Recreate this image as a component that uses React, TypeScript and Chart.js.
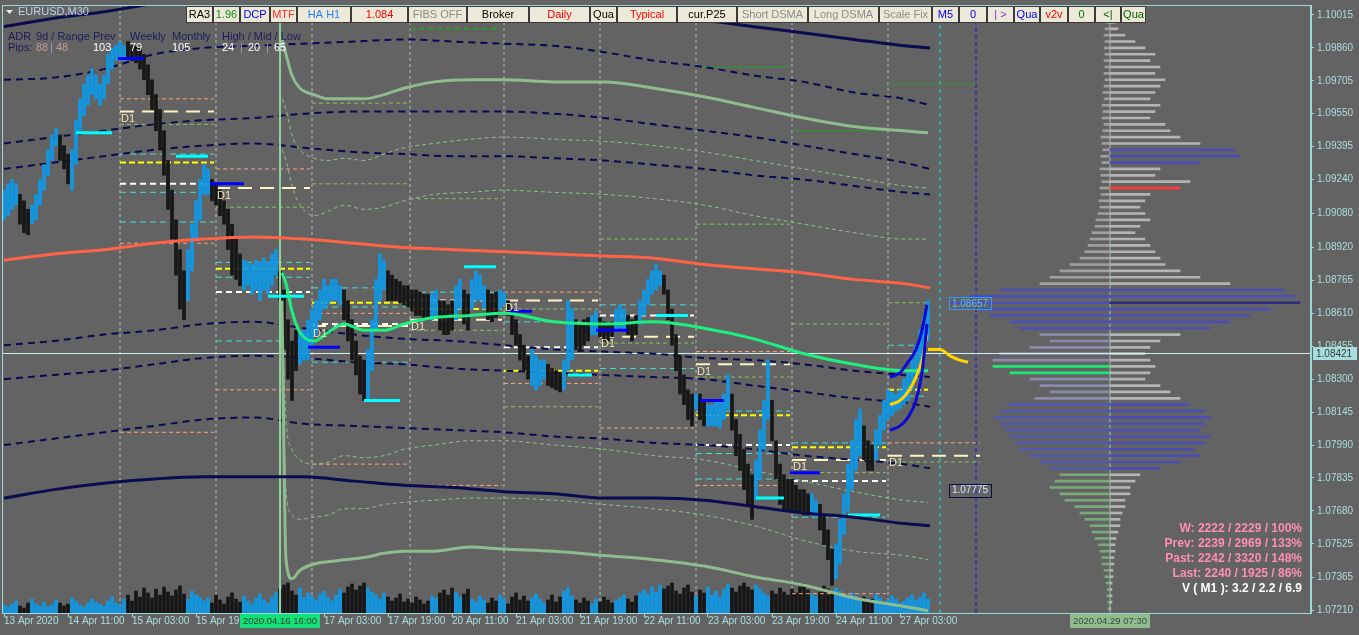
import React, { useEffect, useRef } from "react";
import { Chart, registerables } from "chart.js";

Chart.register(...registerables);

// ---------------- axes ----------------
const Y_MIN = 1.07199;
const Y_MAX = 1.10062;
const Y_TICKS = [1.10015, 1.0986, 1.09705, 1.0955, 1.09395, 1.0924, 1.0908, 1.0892, 1.08765, 1.0861, 1.08455, 1.083, 1.08145, 1.0799, 1.07835, 1.0768, 1.07525, 1.07365, 1.0721];
const LAST_PRICE = 1.08421;

// x = M30 bar number counted from 13 Apr 19:00
const X_MIN = -1;
const X_MAX = 653.5;
const TIME_TICKS = [0, 32, 64, 96, 128, 160, 192, 224, 256, 288, 320, 352, 384, 416, 448];
const TIME_LABELS = ["13 Apr 2020", "14 Apr 11:00", "15 Apr 03:00", "15 Apr 19:00", "16 Apr 11:00", "17 Apr 03:00", "17 Apr 19:00", "20 Apr 11:00", "21 Apr 03:00", "21 Apr 19:00", "22 Apr 11:00", "23 Apr 03:00", "23 Apr 19:00", "24 Apr 11:00", "27 Apr 03:00"];
const BARS_PER_SAMPLE = 2;

// ---------------- price (one sample every 2 bars) ----------------
const PRICE_HIGH = [
  1.0919, 1.0922, 1.0924, 1.0922, 1.0917, 1.0914, 1.0910, 1.0912, 1.0917, 1.0924,
  1.0931, 1.0938, 1.0945, 1.0948, 1.0945, 1.0940, 1.0936, 1.0938, 1.0952, 1.0962,
  1.0969, 1.0973, 1.0976, 1.0973, 1.0969, 1.0973, 1.0983, 1.0986, 1.0987, 1.0989,
  1.0987, 1.0989, 1.0987, 1.0987, 1.0986, 1.0983, 1.0978, 1.0971, 1.0964, 1.0957,
  1.0947, 1.0933, 1.0919, 1.0905, 1.0891, 1.0881, 1.0891, 1.0903, 1.0914, 1.0924,
  1.0931, 1.0929, 1.0924, 1.0922, 1.0919, 1.0914, 1.0910, 1.0903, 1.0896, 1.0889,
  1.0886, 1.0885, 1.0884, 1.0886, 1.0885, 1.0887, 1.0885, 1.0889, 1.0891, 1.0881,
  1.0872, 1.0858, 1.0848, 1.0853, 1.0853, 1.0853, 1.0858, 1.0863, 1.0867, 1.0872,
  1.0877, 1.0874, 1.0877, 1.0877, 1.0874, 1.0872, 1.0867, 1.0858, 1.0848, 1.0841,
  1.0839, 1.0844, 1.0858, 1.0877, 1.0889, 1.0886, 1.0881, 1.0879, 1.0877, 1.0876,
  1.0874, 1.0874, 1.0872, 1.0872, 1.0871, 1.0870, 1.0870, 1.0870, 1.0872, 1.0867,
  1.0867, 1.0865, 1.0867, 1.0874, 1.0877, 1.0872, 1.0870, 1.0877, 1.0881, 1.0879,
  1.0874, 1.0872, 1.0870, 1.0871, 1.0872, 1.0871, 1.0867, 1.0863, 1.0858, 1.0851,
  1.0846, 1.0841, 1.0844, 1.0841, 1.0839, 1.0839, 1.0837, 1.0835, 1.0834, 1.0833,
  1.0839, 1.0867, 1.0863, 1.0858, 1.0856, 1.0858, 1.0859, 1.0860, 1.0862, 1.0859,
  1.0857, 1.0856, 1.0857, 1.0863, 1.0865, 1.0863, 1.0860, 1.0858, 1.0860, 1.0867,
  1.0872, 1.0877, 1.0881, 1.0884, 1.0881, 1.0879, 1.0872, 1.0863, 1.0851, 1.0841,
  1.0832, 1.0825, 1.0823, 1.0823, 1.0823, 1.0820, 1.0818, 1.0818, 1.0820, 1.0820,
  1.0823, 1.0832, 1.0823, 1.0811, 1.0804, 1.0797, 1.0790, 1.0785, 1.0792, 1.0806,
  1.0820, 1.0839, 1.0820, 1.0801, 1.0790, 1.0785, 1.0783, 1.0783, 1.0780, 1.0778,
  1.0778, 1.0776, 1.0776, 1.0773, 1.0771, 1.0766, 1.0759, 1.0750, 1.0752, 1.0764,
  1.0776, 1.0790, 1.0801, 1.0811, 1.0816, 1.0808, 1.0801, 1.0799, 1.0806, 1.0813,
  1.0820, 1.0825, 1.0824, 1.0823, 1.0825, 1.0830, 1.0834, 1.0839, 1.0846, 1.0853,
  1.0860, 1.0867,
];
const PRICE_LOW = [
  1.0905, 1.0907, 1.0910, 1.0912, 1.0903, 1.0899, 1.0898, 1.0903, 1.0905, 1.0912,
  1.0919, 1.0926, 1.0933, 1.0940, 1.0933, 1.0929, 1.0922, 1.0919, 1.0931, 1.0947,
  1.0954, 1.0959, 1.0964, 1.0962, 1.0959, 1.0962, 1.0969, 1.0976, 1.0980, 1.0981,
  1.0980, 1.0981, 1.0980, 1.0979, 1.0976, 1.0971, 1.0964, 1.0957, 1.0947, 1.0938,
  1.0926, 1.0910, 1.0896, 1.0879, 1.0863, 1.0858, 1.0867, 1.0881, 1.0896, 1.0905,
  1.0917, 1.0917, 1.0914, 1.0912, 1.0907, 1.0903, 1.0891, 1.0879, 1.0877, 1.0874,
  1.0872, 1.0874, 1.0870, 1.0872, 1.0867, 1.0872, 1.0870, 1.0874, 1.0879, 1.0867,
  1.0844, 1.0830, 1.0820, 1.0834, 1.0837, 1.0839, 1.0839, 1.0846, 1.0851, 1.0858,
  1.0863, 1.0865, 1.0867, 1.0867, 1.0865, 1.0858, 1.0848, 1.0839, 1.0832, 1.0823,
  1.0820, 1.0820, 1.0834, 1.0853, 1.0867, 1.0872, 1.0867, 1.0867, 1.0867, 1.0866,
  1.0865, 1.0864, 1.0862, 1.0860, 1.0860, 1.0859, 1.0858, 1.0858, 1.0860, 1.0853,
  1.0851, 1.0851, 1.0853, 1.0858, 1.0863, 1.0856, 1.0853, 1.0863, 1.0867, 1.0867,
  1.0863, 1.0858, 1.0857, 1.0859, 1.0863, 1.0865, 1.0860, 1.0851, 1.0846, 1.0839,
  1.0834, 1.0830, 1.0827, 1.0825, 1.0827, 1.0830, 1.0827, 1.0826, 1.0825, 1.0824,
  1.0825, 1.0834, 1.0839, 1.0844, 1.0843, 1.0846, 1.0848, 1.0851, 1.0851, 1.0850,
  1.0848, 1.0848, 1.0850, 1.0853, 1.0854, 1.0853, 1.0851, 1.0848, 1.0851, 1.0856,
  1.0860, 1.0865, 1.0870, 1.0872, 1.0874, 1.0870, 1.0858, 1.0846, 1.0834, 1.0823,
  1.0818, 1.0811, 1.0808, 1.0816, 1.0811, 1.0808, 1.0808, 1.0808, 1.0808, 1.0807,
  1.0811, 1.0816, 1.0806, 1.0794, 1.0787, 1.0778, 1.0771, 1.0764, 1.0773, 1.0783,
  1.0797, 1.0811, 1.0801, 1.0783, 1.0771, 1.0768, 1.0768, 1.0768, 1.0768, 1.0768,
  1.0766, 1.0766, 1.0766, 1.0765, 1.0759, 1.0752, 1.0745, 1.0733, 1.0736, 1.0743,
  1.0757, 1.0768, 1.0778, 1.0787, 1.0794, 1.0792, 1.0787, 1.0787, 1.0792, 1.0799,
  1.0806, 1.0811, 1.0813, 1.0815, 1.0816, 1.0818, 1.0820, 1.0825, 1.0830, 1.0837,
  1.0844, 1.0848,
];
// alternating runs of up (blue) / down (black) samples, starting with up
const TREND_RUNS = [4, 3, 7, 3, 14, 15, 6, 8, 9, 5, 11, 6, 5, 11, 2, 4, 2, 2, 4, 3, 2, 6, 4, 4, 3, 4, 2, 4, 3, 3, 6, 8, 1, 2, 6, 6, 4, 10, 2, 4, 7, 3, 14];
// tick volume (hundreds) per sample
const VOLUME = [
  8, 6, 9, 12, 7, 5, 10, 14, 9, 7, 11, 6, 8, 13, 10, 7, 9, 15, 12, 8, 6, 10, 14, 11, 9, 7, 12, 16, 10, 8,
  14, 18, 12, 22, 16, 25, 20, 15, 24, 18, 26, 21, 17, 23, 27, 19, 14, 22, 18, 16,
  12, 15, 10, 18, 13, 9, 16, 20, 14, 11, 17, 12, 9, 15, 19, 13, 10, 16, 21, 24,
  28, 30, 22, 18, 25, 15, 20, 17, 13, 19, 22, 16, 12, 18, 24, 20, 26, 29, 23, 27, 30, 25, 21, 18, 14, 20, 16, 12, 15, 19,
  11, 14, 10, 16, 13, 9, 12, 17, 15, 20, 23, 18, 25, 21, 16, 19, 24, 14, 11, 17, 13, 10, 15, 12, 18, 14, 9, 16, 20, 13,
  17, 12, 15, 19, 14, 10, 13, 18, 11, 16, 22, 25, 17, 13, 10, 15, 12, 9, 14, 11, 16, 13, 10, 12, 15, 18, 14, 11, 17, 20, 23, 19, 26, 21, 28,
  24, 27, 30, 22, 19, 25, 28, 21, 17, 23, 20, 26, 18, 22, 16, 24, 29, 25, 21, 27, 30, 26, 23, 28, 24, 20, 17, 22, 19, 25, 21, 18, 24, 20, 26, 29, 23, 19, 16, 21, 27, 24, 20, 25, 22,
  18, 15, 20, 17, 13, 16, 12, 14, 19, 15, 11, 13, 17, 14, 10, 12, 15, 18, 13, 16, 20, 14,
];

// ---------------- moving averages / envelopes (sampled every 25 bars) ----------------
const MA_X = [0, 25, 50, 75, 100, 125, 150, 175, 200, 225, 250, 275, 300, 325, 350, 375, 400, 425, 450, 463];
const MA_RED = [1.0886, 1.0889, 1.0891, 1.0894, 1.0896, 1.0897, 1.0896, 1.0894, 1.0892, 1.0891, 1.0890, 1.0889, 1.0888, 1.0887, 1.0884, 1.0882, 1.0880, 1.0877, 1.0875, 1.0873];
const BAND_TOP = [1.0996, 1.1000, 1.1003, 1.1007, 1.1011, 1.1013, 1.1015, 1.1016, 1.1015, 1.1013, 1.1011, 1.1009, 1.1005, 1.10015, 1.0999, 1.0996, 1.0993, 1.0990, 1.0987, 1.0986];
const BAND_BOTTOM = [1.0774, 1.0778, 1.0781, 1.0783, 1.0784, 1.0784, 1.0784, 1.0782, 1.0780, 1.0779, 1.0777, 1.0776, 1.0774, 1.0774, 1.0773, 1.0770, 1.0767, 1.0765, 1.0762, 1.0761];
const ENV_UP_1 = [1.0971, 1.0972, 1.0976, 1.0983, 1.0986, 1.0987, 1.0988, 1.0989, 1.0990, 1.0989, 1.0988, 1.0987, 1.0984, 1.0980, 1.0977, 1.0973, 1.0970, 1.0965, 1.0962, 1.0959];
const ENV_UP_2 = [1.0941, 1.0944, 1.0947, 1.0950, 1.0952, 1.0953, 1.0955, 1.0956, 1.0956, 1.0956, 1.0956, 1.0955, 1.0953, 1.0950, 1.0947, 1.0944, 1.0940, 1.0936, 1.0932, 1.0929];
const ENV_UP_3 = [1.0929, 1.0932, 1.0935, 1.0938, 1.0940, 1.0941, 1.0939, 1.0937, 1.0936, 1.0935, 1.0935, 1.0934, 1.0933, 1.0931, 1.0929, 1.0926, 1.0924, 1.0921, 1.0918, 1.0917];
const ENV_DN_1 = [1.0846, 1.0848, 1.0851, 1.0853, 1.0856, 1.0857, 1.0854, 1.0851, 1.0849, 1.0848, 1.0846, 1.0844, 1.0843, 1.0842, 1.0840, 1.0839, 1.0837, 1.0834, 1.0832, 1.0831];
const ENV_DN_2 = [1.0830, 1.0832, 1.0834, 1.0837, 1.0840, 1.0841, 1.0840, 1.0838, 1.0837, 1.0835, 1.0834, 1.0833, 1.0832, 1.0831, 1.0830, 1.0827, 1.0824, 1.0821, 1.0819, 1.0817];
const ENV_DN_3 = [1.0799, 1.0802, 1.0805, 1.0808, 1.0811, 1.0812, 1.0809, 1.0808, 1.0807, 1.0806, 1.0805, 1.0803, 1.0802, 1.0800, 1.0799, 1.0797, 1.0794, 1.0792, 1.0790, 1.0788];

// ---------------- anchored VWAP from 2020.04.16 16:00 ----------------
const ANCHOR_START = 138;
const ANCHOR_END = 553;
const VWAP_X = [139, 141, 144, 148, 155, 162, 170, 180, 190, 200, 215, 233, 250, 275, 300, 325, 350, 375, 400, 425, 450, 462];
const VWAP = [1.0880, 1.0875, 1.0862, 1.0852, 1.0848, 1.0852, 1.0856, 1.0853, 1.0853, 1.0856, 1.0859, 1.0860, 1.0861, 1.0857, 1.0856, 1.0857, 1.0854, 1.0849, 1.0842, 1.0837, 1.0834, 1.0834];
const VWAP_UP_1 = [1.0938, 1.0933, 1.0921, 1.0912, 1.0907, 1.0909, 1.0912, 1.0910, 1.0911, 1.0914, 1.0917, 1.0918, 1.0919, 1.0918, 1.0917, 1.0915, 1.0912, 1.0907, 1.0903, 1.0899, 1.0896, 1.0896];
const VWAP_UP_2 = [1.0962, 1.0957, 1.0945, 1.0938, 1.0934, 1.0933, 1.0934, 1.0933, 1.0936, 1.0939, 1.0941, 1.0943, 1.0944, 1.0943, 1.0942, 1.0940, 1.0937, 1.0933, 1.0929, 1.0925, 1.0921, 1.0920];
const VWAP_UP_3 = [1.0990, 1.0983, 1.0973, 1.0967, 1.0964, 1.0962, 1.0962, 1.0962, 1.0964, 1.0967, 1.0970, 1.0971, 1.0971, 1.0970, 1.0970, 1.0967, 1.0963, 1.0958, 1.0953, 1.0949, 1.0947, 1.0946];
const VWAP_DN_1 = [1.0863, 1.0811, 1.0797, 1.0792, 1.0790, 1.0791, 1.0794, 1.0793, 1.0794, 1.0797, 1.0799, 1.0801, 1.0801, 1.0799, 1.0797, 1.0794, 1.0792, 1.0787, 1.0782, 1.0777, 1.0773, 1.0772];
const VWAP_DN_2 = [1.0858, 1.0778, 1.0766, 1.0764, 1.0765, 1.0766, 1.0769, 1.0769, 1.0771, 1.0772, 1.0773, 1.0774, 1.0774, 1.0773, 1.0771, 1.0769, 1.0766, 1.0761, 1.0754, 1.0749, 1.0747, 1.0745];
const VWAP_DN_3 = [1.0867, 1.0745, 1.0736, 1.0740, 1.0743, 1.0744, 1.0745, 1.0746, 1.0748, 1.0749, 1.0749, 1.0751, 1.0750, 1.0749, 1.0747, 1.0745, 1.0742, 1.0737, 1.0733, 1.0727, 1.0723, 1.0721];

// ---------------- regression channel + projection ----------------
const CHANNEL_X = [443, 448, 452, 456, 459, 461.5];
const CHANNEL_HIGH = [1.0831, 1.0833, 1.0838, 1.0844, 1.0853, 1.0865];
const CHANNEL_MID = [1.0818, 1.0820, 1.0824, 1.0831, 1.0839, 1.0851];
const CHANNEL_LOW = [1.0806, 1.0808, 1.0812, 1.0820, 1.0833, 1.0856];
const PROJECTION_X = [462, 468, 473, 478, 482];
const PROJECTION = [1.0844, 1.0844, 1.0841, 1.0839, 1.0838];

// ---------------- daily levels: [from bar, to bar, price] ----------------
const DAY_STARTS = [58, 106, 154, 203, 250, 298, 346, 394, 442];
const FUTURE_CYAN = 468;
const FUTURE_BLUE = 486;
const SALMON_LEVELS = [[58, 105, 1.0962], [58, 105, 1.0894], [58, 105, 1.0805], [106, 153, 1.0929], [106, 153, 1.0825], [154, 202, 1.0861], [154, 202, 1.0790], [203, 249, 1.0780], [250, 297, 1.0871], [250, 297, 1.0828], [298, 345, 1.0807], [346, 393, 1.0843], [346, 393, 1.0780], [394, 441, 1.0729], [442, 488, 1.0800]];
const CYAN_LEVELS = [[58, 105, 1.0936], [58, 105, 1.0918], [58, 105, 1.0904], [106, 153, 1.0885], [106, 153, 1.0878], [106, 153, 1.0848], [154, 202, 1.0873], [154, 202, 1.0864], [154, 202, 1.0838], [203, 249, 1.0871], [250, 297, 1.0857], [298, 345, 1.0865], [298, 345, 1.0835], [346, 393, 1.0815], [346, 393, 1.0795], [346, 393, 1.0783], [394, 441, 1.0800], [394, 441, 1.0765], [442, 462, 1.0846], [442, 462, 1.0822]];
const YELLOW_LEVELS = [[58, 105, 1.0932], [106, 153, 1.0882], [154, 202, 1.0866], [203, 249, 1.0863], [250, 297, 1.0834], [346, 393, 1.0813], [394, 441, 1.0798], [442, 462, 1.0825]];
const WHITE_LEVELS = [[58, 105, 1.0922], [106, 153, 1.0871], [154, 202, 1.0856], [203, 249, 1.0867], [250, 297, 1.0845], [298, 345, 1.0860], [346, 393, 1.0799], [394, 441, 1.0782]];
const D1_LEVELS = [[58, 105, 1.0956], [106, 153, 1.0920], [154, 202, 1.0855], [203, 249, 1.0858], [250, 297, 1.0867], [298, 345, 1.0850], [346, 393, 1.0837], [394, 441, 1.0792], [442, 488, 1.0794]];
const GREEN_LEVELS = [[58, 105, 1.0950], [106, 153, 1.0911], [154, 202, 1.0960], [154, 202, 1.0922], [203, 249, 1.0915], [203, 249, 1.0853], [250, 297, 1.0863], [250, 297, 1.0817], [298, 345, 1.0896], [298, 345, 1.0847], [346, 393, 1.0903], [346, 393, 1.0831], [394, 441, 1.0856], [394, 441, 1.0786], [442, 462, 1.0866], [442, 488, 1.0791]];
const WEEKLY_LEVELS = [[346, 393, 1.0977], [394, 441, 1.0947], [442, 486, 1.0969]];
const WEEKLY_DASHED = [[203, 249, 1.0995]];
const CYAN_BLOCKS = [[36, 54, 1.0946], [86, 102, 1.0935], [132, 150, 1.0869], [180, 198, 1.0820], [230, 246, 1.0883], [282, 294, 1.0832], [326, 342, 1.0860], [376, 390, 1.0774], [422, 438, 1.0766]];
const BLUE_BLOCKS = [[57, 70, 1.0981], [103, 120, 1.0922], [152, 168, 1.0845], [252, 264, 1.0862], [296, 312, 1.0853], [348, 360, 1.0820], [393, 408, 1.0786]];

// ---------------- volume profile (bins from top price, step) ----------------
const PROFILE_TOP = 1.1001;
const PROFILE_STEP = 0.0003;
const PROFILE_RIGHT = [
  3, 5, 8,
  15, 25, 35, 45, 40, 50, 45, 55, 50, 45, 40,
  50, 45, 40, 55, 60, 70, 90,
  125, 130, 90,
  50, 45, 80, 70,
  40, 35, 30, 35, 40, 30, 25, 35, 40, 45, 50,
  55, 70, 90, 120,
  175, 185, 190,
  160, 140, 120, 100,
  70, 50, 40, 35, 40,
  45, 40, 35, 50, 60, 70,
  80, 95, 100, 95, 90, 100, 95, 85, 90, 70, 50,
  30, 25, 20, 20, 15, 15, 12, 10, 10, 8, 6,
  5, 5, 4, 4, 3, 3, 2, 2, 2, 2, 1,
];
const PROFILE_LEFT = [
  3, 4, 5, 6, 5, 6, 5, 6, 5, 6, 5,
  6, 7, 6, 8, 7, 8, 6, 7, 9, 8, 7, 9, 8, 10, 9, 8, 10, 9, 11, 10,
  12, 14, 15, 18, 20, 22, 25, 30,
  40, 50, 60, 70,
  110, 140, 160,
  130, 120, 100, 90,
  70, 60, 80, 110, 117,
  117, 100,
  80, 70, 60, 75,
  100, 110, 115, 110, 105, 100, 95, 90, 80, 70, 60,
  50, 55, 60, 50, 45, 35, 30, 25, 20, 18, 15,
  12, 10, 8, 8, 6, 5, 4, 3, 3, 2, 2,
];

// ---------------- styling ----------------
const BG = "#636363";
const FRAME = "#9ed8d8";
const AXIS_TEXT = "#acdede";
const UP = "#1196e2";
const DOWN = "#161616";
const FONT = "Liberation Sans";

const pts = (xs: number[], ys: number[]) => xs.map((x, i) => ({ x, y: ys[i] }));
const segs = (list: number[][]) => {
  const out: any[] = [];
  list.forEach(([a, b, p]) => out.push({ x: a, y: p }, { x: b, y: p }, { x: b, y: null }));
  return out;
};
const verticals = (xs: number[]) => {
  const out: any[] = [];
  xs.forEach((x) => out.push({ x, y: Y_MIN }, { x, y: Y_MAX }, { x, y: null }));
  return out;
};
const line = (data: any[], color: string, width: number, dash: number[], order: number, smooth = false) => ({
  type: "line",
  data,
  borderColor: color,
  borderWidth: width,
  borderDash: dash,
  borderCapStyle: "butt",
  pointRadius: 0,
  fill: false,
  spanGaps: false,
  tension: smooth ? 0.4 : 0,
  cubicInterpolationMode: smooth ? "monotone" : "default",
  xAxisID: "x",
  yAxisID: "y",
  order,
});

function trendFlags(): boolean[] {
  const flags: boolean[] = [];
  TREND_RUNS.forEach((n, r) => {
    for (let i = 0; i < n; i++) flags.push(r % 2 === 0);
  });
  return flags;
}

function rightColor(i: number) {
  if (i === 45) return "#2a2a80";
  if (i === 27) return "#ff3b3b";
  if ((i >= 21 && i <= 23) || (i >= 43 && i <= 49) || (i >= 61 && i <= 71)) return "#4b4fb3";
  return "#b4b4b4";
}
function leftColor(i: number) {
  if (i === 55 || i === 56) return "#1ee874";
  if (i >= 43 && i <= 49) return "#4a50b8";
  if (i >= 50 && i <= 60) return "#8a8aae";
  if (i >= 61 && i <= 71) return "#5058b0";
  if (i >= 72) return "#7aaa7a";
  return "#a0a0a0";
}

function buildDatasets() {
  const up = trendFlags();
  const ds: any[] = [];
  // projection channel
  ds.push(line(pts(CHANNEL_X, CHANNEL_HIGH), "#0a0ad8", 3, [], 0, true));
  ds.push(line(pts(CHANNEL_X, CHANNEL_LOW), "#0a0ad8", 3, [], 0, true));
  ds.push(line(pts(CHANNEL_X, CHANNEL_MID), "#ffd200", 3, [], 0, true));
  ds.push(line(pts(PROJECTION_X, PROJECTION), "#ffd200", 3, [], 0, true));
  // main averages
  ds.push(line(pts(VWAP_X, VWAP), "#1ef07f", 3, [], 1, true));
  ds.push(line(pts(MA_X, MA_RED), "#ff6347", 3, [], 1, true));
  ds.push(line(pts(MA_X, BAND_TOP), "#0b0b4f", 3, [], 1, true));
  ds.push(line(pts(MA_X, BAND_BOTTOM), "#0b0b4f", 3, [], 1, true));
  ds.push(line(pts(VWAP_X, VWAP_UP_3), "#8fbc8f", 3, [], 1, true));
  ds.push(line(pts(VWAP_X, VWAP_DN_3), "#8fbc8f", 3, [], 1, true));
  ds.push(line(segs(CYAN_BLOCKS), "#00ffff", 3, [], 1));
  ds.push(line(segs(BLUE_BLOCKS), "#0000ff", 3, [], 1));
  ds.push(line(verticals([ANCHOR_START]), "#8fd49a", 2, [], 1));
  ds.push(line(verticals([ANCHOR_START]), "#00ff5a", 2, [10, 8], 1));
  // price
  ds.push({
    type: "bar",
    data: PRICE_HIGH.map((h, k) => ({ x: k * BARS_PER_SAMPLE, y: [PRICE_LOW[k], h] })),
    backgroundColor: up.map((u) => (u ? UP : DOWN)),
    borderWidth: 0,
    barThickness: 3,
    grouped: false,
    xAxisID: "x",
    yAxisID: "y",
    order: 2,
  });
  // bands & envelopes
  ds.push(line(pts(VWAP_X, VWAP_UP_1), "#8fbc8f", 1, [4, 3], 3, true));
  ds.push(line(pts(VWAP_X, VWAP_UP_2), "#8fbc8f", 1, [4, 3], 3, true));
  ds.push(line(pts(VWAP_X, VWAP_DN_1), "#8fbc8f", 1, [4, 3], 3, true));
  ds.push(line(pts(VWAP_X, VWAP_DN_2), "#8fbc8f", 1, [4, 3], 3, true));
  [ENV_UP_1, ENV_UP_2, ENV_UP_3, ENV_DN_1, ENV_DN_2, ENV_DN_3].forEach((env) =>
    ds.push(line(pts(MA_X, env), "#0a0a52", 2, [7, 5], 3, true))
  );
  // levels
  ds.push(line(segs(SALMON_LEVELS), "#ffa07a", 1, [4, 3], 3));
  ds.push(line(segs(CYAN_LEVELS), "#40e0d0", 1, [6, 4], 3));
  ds.push(line(segs(YELLOW_LEVELS), "#ffff00", 2, [6, 3], 3));
  ds.push(line(segs(WHITE_LEVELS), "#ffffff", 2, [6, 4], 3));
  ds.push(line(segs(D1_LEVELS), "#fff5c0", 2, [14, 8], 3));
  ds.push(line(segs(GREEN_LEVELS), "#86c25a", 1, [4, 3], 3));
  ds.push(line(segs(WEEKLY_LEVELS), "#2e9a2e", 1, [], 3));
  ds.push(line(segs(WEEKLY_DASHED), "#2e9a2e", 2, [5, 4], 3));
  ds.push(line([{ x: X_MIN, y: LAST_PRICE }, { x: X_MAX, y: LAST_PRICE }], "#d6f0f0", 1, [], 3));
  // profiles
  ds.push({
    type: "bar",
    indexAxis: "y",
    data: PROFILE_RIGHT.map((v, i) => ({ y: +(PROFILE_TOP - i * PROFILE_STEP).toFixed(5), x: [0, v] })),
    backgroundColor: PROFILE_RIGHT.map((_, i) => rightColor(i)),
    borderWidth: 0,
    barThickness: 2,
    grouped: false,
    xAxisID: "xp",
    yAxisID: "y",
    order: 5,
  });
  ds.push({
    type: "bar",
    indexAxis: "y",
    data: PROFILE_LEFT.map((v, i) => ({ y: +(PROFILE_TOP - i * PROFILE_STEP).toFixed(5), x: [-v, 0] })),
    backgroundColor: PROFILE_LEFT.map((_, i) => leftColor(i)),
    borderWidth: 0,
    barThickness: 2,
    grouped: false,
    xAxisID: "xp",
    yAxisID: "y",
    order: 5,
  });
  // volume
  ds.push({
    type: "bar",
    data: VOLUME.map((v, k) => ({ x: k * BARS_PER_SAMPLE, y: v })),
    backgroundColor: up.map((u) => (u ? UP : DOWN)),
    borderWidth: 0,
    barThickness: 3,
    grouped: false,
    xAxisID: "x",
    yAxisID: "yv",
    order: 5,
  });
  // verticals
  ds.push(line(verticals(DAY_STARTS), "#bdbdbd", 1, [3, 3], 6));
  ds.push(line(verticals([ANCHOR_END]), "#9cc89c", 1, [], 6));
  ds.push(line(verticals([FUTURE_CYAN]), "#00e8f0", 1, [4, 4], 6));
  ds.push(line(verticals([FUTURE_BLUE]), "#1010ff", 1, [4, 3], 6));
  return ds;
}

const TOOLBAR: [string, number, number, string][] = [
  ["RA3", 186, 213, "#000000"], ["1.96", 213, 240, "#138f13"], ["DCP", 240, 270, "#0000ff"], ["MTF", 270, 297, "#ff2a2a"],
  ["HA H1", 297, 351, "#2080ff"], ["1.084", 351, 408, "#ff0000"], ["FIBS OFF", 408, 467, "#8a8a8a"], ["Broker", 467, 529, "#000000"],
  ["Daily", 529, 590, "#ff0000"], ["Qua", 590, 617, "#000000"], ["Typical", 617, 677, "#ff0000"], ["cur.P25", 677, 737, "#000000"],
  ["Short DSMA", 737, 808, "#8a8a8a"], ["Long DSMA", 808, 879, "#8a8a8a"], ["Scale Fix", 879, 932, "#8a8a8a"], ["M5", 932, 959, "#0000ff"],
  ["0", 959, 987, "#0000ff"], ["| >", 987, 1014, "#8a2be2"], ["Qua", 1014, 1040, "#0000ff"], ["v2v", 1040, 1068, "#ff0000"],
  ["0", 1068, 1095, "#008000"], ["<|", 1095, 1121, "#006400"], ["Qua", 1121, 1146, "#006400"],
];

const STATS = [
  ["W: 2222 / 2229 / 100%", "#ff8fb0"],
  ["Prev: 2239 / 2969 / 133%", "#ff8fb0"],
  ["Past: 2242 / 3320 / 148%", "#ff8fb0"],
  ["Last: 2240 / 1925 / 86%", "#ff8fb0"],
  ["V ( M1 ): 3.2 / 2.2 / 6.9", "#ffffff"],
];

function txt(ctx: any, s: string, x: number, y: number, color: string, font: string, align = "left", base = "middle") {
  ctx.fillStyle = color;
  ctx.font = font;
  ctx.textAlign = align;
  ctx.textBaseline = base;
  ctx.fillText(s, x, y);
}

const overlay = {
  id: "mt4overlay",
  beforeDraw(chart: any) {
    const { ctx, width, height } = chart;
    ctx.save();
    ctx.fillStyle = BG;
    ctx.fillRect(0, 0, width, height);
    ctx.restore();
  },
  afterDraw(chart: any) {
    const { ctx, chartArea: ca } = chart;
    const xs = chart.scales.x;
    const ys = chart.scales.y;
    ctx.save();
    // frame
    ctx.strokeStyle = FRAME;
    ctx.lineWidth = 1;
    ctx.strokeRect(ca.left + 0.5, ca.top + 0.5, ca.right - ca.left - 1, ca.bottom - ca.top);

    // D1 tags
    D1_LEVELS.forEach(([a, , p]) => {
      txt(ctx, "D1", xs.getPixelForValue(a) + 1, ys.getPixelForValue(p) + 2, "#f3e4b6", `11px ${FONT}`, "left", "top");
    });

    // title
    ctx.fillStyle = "#e8eef4";
    ctx.beginPath();
    ctx.moveTo(6, 10); ctx.lineTo(13, 10); ctx.lineTo(9.5, 14); ctx.closePath(); ctx.fill();
    txt(ctx, "EURUSD,M30", 18, 12, "#b8d4ec", `11px ${FONT}`);

    // toolbar
    TOOLBAR.forEach(([t, a, b, c]) => {
      ctx.fillStyle = "#ece9d8";
      ctx.fillRect(a, 6, b - a, 17);
      ctx.strokeStyle = "#3a3a3a";
      ctx.strokeRect(a + 0.5, 6.5, b - a - 1, 16);
      txt(ctx, t, (a + b) / 2, 15, c, `11px ${FONT}`, "center");
    });

    // ADR panel
    const navy = "#1c1c5c";
    const f = `11px ${FONT}`;
    txt(ctx, "ADR", 8, 37, navy, f);
    txt(ctx, "9d / Range", 36, 37, navy, f);
    txt(ctx, "Prev", 93, 37, navy, f);
    txt(ctx, "Weekly", 130, 37, navy, f);
    txt(ctx, "Monthly", 172, 37, navy, f);
    txt(ctx, "High / Mid / Low", 222, 37, navy, f);
    txt(ctx, "Pips:", 8, 48, navy, f);
    txt(ctx, "88", 36, 48, "#c89a9a", f);
    txt(ctx, "|", 50, 48, "#9a9ab8", f);
    txt(ctx, "48", 56, 48, "#c89a9a", f);
    txt(ctx, "103", 93, 48, "#ffffff", f);
    txt(ctx, "79", 130, 48, "#ffffff", f);
    txt(ctx, "105", 172, 48, "#ffffff", f);
    txt(ctx, "24", 222, 48, "#ffffff", f);
    txt(ctx, "|", 240, 48, "#9a9ab8", f);
    txt(ctx, "20", 248, 48, "#ffffff", f);
    txt(ctx, "|", 266, 48, "#9a9ab8", f);
    txt(ctx, "65", 274, 48, "#ffffff", f);

    // price boxes
    const yHi = ys.getPixelForValue(1.08657);
    ctx.strokeStyle = "#2f9bff";
    ctx.strokeRect(949.5, Math.round(yHi) - 5.5, 42, 12);
    txt(ctx, "1.08657", 970, yHi + 0.5, "#55c0ff", `10px ${FONT}`, "center");
    const yLo = ys.getPixelForValue(1.07775);
    ctx.strokeStyle = "#0c0c40";
    ctx.strokeRect(949.5, Math.round(yLo) - 6.5, 42, 13);
    txt(ctx, "1.07775", 970, yLo, "#d8e4ff", `10px ${FONT}`, "center");

    // current price tag on axis
    const yLast = ys.getPixelForValue(LAST_PRICE);
    ctx.fillStyle = "#a6dede";
    ctx.fillRect(1313, Math.round(yLast) - 6, 44, 13);
    txt(ctx, "1.08421", 1316, yLast + 0.5, "#3a3a3a", `10px ${FONT}`);

    // time tags
    const tag = (label: string, xv: number, fill: string, color: string) => {
      const cx = xs.getPixelForValue(xv);
      ctx.font = `9.5px ${FONT}`;
      const w = ctx.measureText(label).width + 6;
      ctx.fillStyle = fill;
      ctx.fillRect(Math.round(cx - w / 2), 614, Math.round(w), 14);
      txt(ctx, label, cx, 621.5, color, `9.5px ${FONT}`, "center");
    };
    tag("2020.04.16 16:00", ANCHOR_START, "#14e07a", "#24402e");
    tag("2020.04.29 07:30", ANCHOR_END, "#8fbc8f", "#3a4a3a");

    // stats
    STATS.forEach(([s, c], i) => {
      txt(ctx, s, 1302, 529 + i * 14.8, c, `bold 12px ${FONT}`, "right");
    });
    ctx.restore();
  },
};

export default function App() {
  const ref = useRef<HTMLCanvasElement>(null);
  useEffect(() => {
    const canvas = ref.current as HTMLCanvasElement;
    Chart.defaults.font.family = FONT;
    const chart = new Chart(canvas, {
      type: "bar",
      data: { datasets: buildDatasets() },
      options: {
        animation: false,
        responsive: false,
        devicePixelRatio: 1,
        events: [],
        layout: { autoPadding: false, padding: { left: 2, top: 5, right: 0, bottom: 0 } },
        plugins: { legend: { display: false }, tooltip: { enabled: false }, title: { display: false } },
        scales: {
          x: {
            type: "linear",
            position: "bottom",
            min: X_MIN,
            max: X_MAX,
            offset: false,
            bounds: "data",
            grid: { display: true, drawOnChartArea: false, drawTicks: true, tickLength: 4, color: FRAME, offset: false },
            border: { display: true, color: FRAME },
            ticks: {
              autoSkip: false,
              maxRotation: 0,
              minRotation: 0,
              align: "start",
              padding: -2,
              color: AXIS_TEXT,
              font: { family: FONT, size: 10 },
              callback: (_v: any, i: number) => TIME_LABELS[i],
            },
            afterBuildTicks: (s: any) => {
              s.ticks = TIME_TICKS.map((v) => ({ value: v }));
            },
            afterFit: (s: any) => {
              s.height = 22;
              s.paddingLeft = 0;
              s.paddingRight = 0;
            },
          },
          y: {
            type: "linear",
            position: "right",
            min: Y_MIN,
            max: Y_MAX,
            offset: false,
            bounds: "data",
            grid: { display: true, drawOnChartArea: false, drawTicks: true, tickLength: 3, color: FRAME, offset: false },
            border: { display: true, color: FRAME },
            ticks: {
              autoSkip: false,
              padding: 3,
              color: AXIS_TEXT,
              font: { family: FONT, size: 10 },
              callback: (v: any) => Number(v).toFixed(5),
            },
            afterBuildTicks: (s: any) => {
              s.ticks = Y_TICKS.map((v) => ({ value: v }));
            },
            afterFit: (s: any) => {
              s.width = 48;
              s.paddingTop = 0;
              s.paddingBottom = 0;
            },
          },
          yv: { type: "linear", axis: "y", position: "left", display: false, min: 0, max: 608, offset: false, grid: { offset: false } },
          xp: { type: "linear", axis: "x", position: "bottom", display: false, min: -1108, max: 201, offset: false, grid: { offset: false } },
        },
      } as any,
      plugins: [overlay],
    } as any);
    return () => chart.destroy();
  }, []);
  return (
    <div style={{ position: "fixed", left: 0, top: 0, width: 1359, height: 635, background: BG }}>
      <canvas ref={ref} width={1359} height={635} style={{ display: "block", width: 1359, height: 635 }} />
    </div>
  );
}
